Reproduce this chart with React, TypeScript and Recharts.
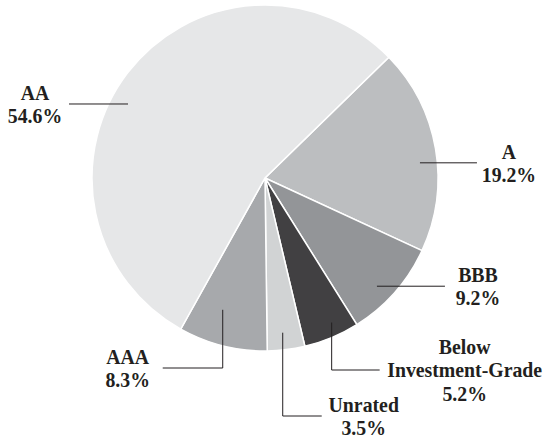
import React from "react";
import { PieChart, Pie, Cell } from "recharts";

// slices, clockwise from the top-right edge of "A"
const ratings = ["A", "BBB", "Below\nInvestment-Grade", "Unrated", "AAA", "AA"];
const shares = [19.2, 9.2, 5.2, 3.5, 8.3, 54.6];
const greys = ["#bcbec0", "#939598", "#414042", "#d1d3d4", "#a7a9ac", "#e6e7e8"];

// leader line for each slice: where it starts inside the slice (fraction of the
// sweep, fraction of the radius), optional drop to bendY (from cy), horizontal
// run, and where the text block is centred from the end of the line
const leaders = [
  { at: 0.56, r: 0.9, bendY: null, run: 57, textDx: 32 },
  { at: 0.58, r: 0.9, bendY: null, run: 68, textDx: 33 },
  { at: 0.39, r: 0.92, bendY: 192, run: 48, textDx: 85 },
  { at: 0.54, r: 0.9, bendY: 238, run: 39, textDx: 42 },
  { at: 0.62, r: 0.8, bendY: 190, run: -60, textDx: -35 },
  { at: 0.454, r: 0.9, bendY: null, run: -59, textDx: -34 },
];

const data = ratings.map((name, i) => ({ name, value: shares[i] }));

const INK = "#231f20";
const RAD = Math.PI / 180;

function LeaderLabel(props: any) {
  const { cx, cy, outerRadius, startAngle, endAngle, index } = props;
  const spec = leaders[index];
  const angle = startAngle + (endAngle - startAngle) * spec.at;
  const r = outerRadius * spec.r;
  const x0 = cx + r * Math.cos(-angle * RAD);
  const y0 = cy + r * Math.sin(-angle * RAD);
  const y1 = spec.bendY == null ? y0 : cy + spec.bendY;
  const x1 = x0 + spec.run;
  const tx = x1 + spec.textDx;
  const rows = [...ratings[index].split("\n"), `${shares[index]}%`];
  const lh = 23.5;
  const top = y1 - ((rows.length - 1) * lh) / 2;
  const pts =
    spec.bendY == null
      ? `${x0},${y0} ${x1},${y1}`
      : `${x0},${y0} ${x0},${y1} ${x1},${y1}`;
  return (
    <g>
      <polyline points={pts} fill="none" stroke={INK} strokeWidth={1} />
      {/* the print face is a narrow Times, so squeeze it a little */}
      <g transform={`translate(${tx},${top}) scale(0.9,1)`}>
        <text
          x={0}
          y={0}
          textAnchor="middle"
          fill={INK}
          fontFamily="'Liberation Serif', 'Times New Roman', serif"
          fontWeight="bold"
          fontSize={22}
        >
          {rows.map((row, k) => (
            <tspan key={k} x={0} y={k * lh + 7.5}>
              {row}
            </tspan>
          ))}
        </text>
      </g>
    </g>
  );
}

export default function App() {
  return (
    <div style={{ width: 546, height: 440, background: "#fff" }}>
      <style>{"body{margin:0}"}</style>
      <PieChart width={546} height={440} margin={{ top: 0, right: 0, bottom: 0, left: 0 }}>
        <Pie
          data={data}
          dataKey="value"
          nameKey="name"
          cx={265}
          cy={178}
          outerRadius={173}
          startAngle={44.3}
          endAngle={-315.7}
          stroke="#ffffff"
          strokeWidth={1.5}
          label={LeaderLabel}
          labelLine={false}
          isAnimationActive={false}
        >
          {data.map((d, i) => (
            <Cell key={d.name} fill={greys[i]} />
          ))}
        </Pie>
      </PieChart>
    </div>
  );
}
